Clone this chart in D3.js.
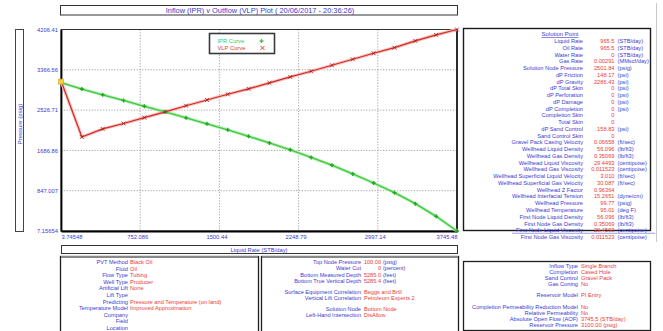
<!DOCTYPE html>
<html>
<head>
<meta charset="utf-8">
<script src="https://cdn.jsdelivr.net/npm/d3@7"></script>
<style>
  html, body { margin: 0; padding: 0; background: #fff; }
  svg { display: block; font-family: "Liberation Sans", Arial, sans-serif; }
</style>
</head>
<body>
<svg id="chart" width="663" height="331"></svg>
<script>
// Inflow / outflow performance curves (liquid rate in STB/day, pressure in psig)
const liquidRate = [3.74548, 200.679, 397.612, 594.546, 791.479, 988.412, 1185.35, 1382.28,
  1579.21, 1776.15, 1973.08, 2170.01, 2366.95, 2563.88, 2760.81, 2957.75, 3154.68, 3351.61,
  3548.55, 3745.48];
const iprPressure = [3100, 2966, 2846, 2728, 2606, 2490, 2366, 2242, 2116, 1980, 1843, 1700,
  1541, 1378, 1196, 1008, 806, 577, 313, 7.15654];
const vlpPressure = [3140, 1967, 2134, 2248, 2370, 2490, 2618, 2738, 2857, 2970, 3093, 3218,
  3336, 3461, 3586, 3711, 3828, 3969, 4094, 4206.41];

const xTicks = [3.74548, 752.086, 1500.44, 2248.79, 2997.14, 3745.48];
const xTickLabels = ["3.74548", "752.086", "1500.44", "2248.79", "2997.14", "3745.48"];
const yTicks = [7.15654, 847.007, 1686.86, 2526.71, 3366.56, 4206.41];
const yTickLabels = ["7.15654", "847.007", "1686.86", "2526.71", "3366.56", "4206.41"];

const seriesNames = ["IPR Curve", "VLP Curve"];
const titleText = "Inflow (IPR) v Outflow (VLP) Plot ( 20/06/2017 - 20:36:26)";
const yAxisTitle = "Pressure (psig)";
const xAxisTitle = "Liquid Rate  (STB/day)";

// Solution point table: label, value, unit
const solutionLabels = ["Liquid Rate", "Oil Rate", "Water Rate", "Gas Rate", "Solution Node Pressure",
  "dP Friction", "dP Gravity", "dP Total Skin", "dP Perforation", "dP Damage", "dP Completion",
  "Completion Skin", "Total Skin", "dP Sand Control", "Sand Control Skin",
  "Gravel Pack Casing Velocity", "Wellhead Liquid Density", "Wellhead Gas Density",
  "Wellhead Liquid Viscosity", "Wellhead Gas Viscosity", "Wellhead Superficial Liquid Velocity",
  "Wellhead Superficial Gas Velocity", "Wellhead Z Factor", "Wellhead Interfacial Tension",
  "Wellhead Pressure", "Wellhead Temperature", "First Node Liquid Density",
  "First Node Gas Density", "First Node Liquid Viscosity", "First Node Gas Viscosity"];
const solutionValues = ["965.5", "965.5", "0", "0.00291", "2501.84", "148.17", "2286.43", "0", "0",
  "0", "0", "0", "0", "158.83", "0", "0.06658", "56.096", "0.35069", "29.4493", "0.011523",
  "3.010", "30.087", "0.96364", "15.2651", "99.77", "95.01", "56.096", "0.35069", "29.4593",
  "0.011523"];
const solutionUnits = ["(STB/day)", "(STB/day)", "(STB/day)", "(MMscf/day)", "(psig)", "(psi)",
  "(psi)", "(psi)", "(psi)", "(psi)", "(psi)", "", "", "(psi)", "", "(ft/sec)", "(lb/ft3)",
  "(lb/ft3)", "(centipoise)", "(centipoise)", "(ft/sec)", "(ft/sec)", "", "(dyne/cm)", "(psig)",
  "(deg F)", "(lb/ft3)", "(lb/ft3)", "(centipoise)", "(centipoise)"];

// Input summary tables
const setupLabels = ["PVT Method", "Fluid", "Flow Type", "Well Type", "Artificial Lift", "Lift Type",
  "Predicting", "Temperature Model", "Company", "Field", "Location"];
const setupValues = ["Black Oil", "Oil", "Tubing", "Producer", "None", "",
  "Pressure and Temperature (on land)", "Improved Approximation", "", "", ""];

const wellLabels = ["Top Node Pressure", "Water Cut", "Bottom Measured Depth", "Bottom True Vertical Depth",
  "Surface Equipment Correlation", "Vertical Lift Correlation", "Solution Node", "Left-Hand Intersection"];
const wellValues = ["100.00", "0", "5285.0", "5285.4", "Beggs and Brill", "Petroleum Experts 2",
  "Bottom Node", "DisAllow"];
const wellUnits = ["(psig)", "(percent)", "(feet)", "(feet)", "", "", "", ""];
const wellRowSlots = [0, 1, 2, 3, 4.7, 5.7, 7.3, 8.3];

const inflowLabels = ["Inflow Type", "Completion", "Sand Control", "Gas Coning", "Reservoir Model",
  "Completion Permeability Reduction Model", "Relative Permeability", "Absolute Open Flow (AOF)",
  "Reservoir Pressure"];
const inflowValues = ["Single Branch", "Cased Hole", "Gravel Pack", "No", "PI Entry", "No", "No",
  "3745.5 (STB/day)", "3100.00 (psig)"];
const inflowRowSlots = [0, 1, 2, 3, 4.9, 6.8, 7.8, 8.8, 9.8];

const BLUE = "#3b3bd0";
const RED = "#e8403a";
const IPR_COLOR = "#3fc93f";
const VLP_COLOR = "#d42a22";

const svg = d3.select("#chart");

// ---- plot area
const plot = { left: 61, right: 457, top: 29.5, bottom: 231 };
const x = d3.scaleLinear().domain([xTicks[0], xTicks[xTicks.length - 1]]).range([plot.left, plot.right]);
const y = d3.scaleLinear().domain([yTicks[0], yTicks[yTicks.length - 1]]).range([plot.bottom, plot.top]);

// title bar
svg.append("rect").attr("x", 60.5).attr("y", 5.5).attr("width", 397).attr("height", 9.5)
  .attr("fill", "#fff").attr("stroke", "#333").attr("stroke-width", 1);
svg.append("text").attr("x", 260).attr("y", 13).attr("text-anchor", "middle")
  .attr("font-size", 7.4).attr("fill", BLUE).text(titleText);

// y axis title box
svg.append("rect").attr("x", 15.5).attr("y", 29.5).attr("width", 8).attr("height", 202)
  .attr("fill", "#fff").attr("stroke", "#444").attr("stroke-width", 1);
svg.append("text").attr("transform", "translate(21.6,124) rotate(-90)")
  .attr("text-anchor", "middle").attr("font-size", 6).attr("fill", BLUE).text(yAxisTitle);

// grid lines
const grid = svg.append("g").attr("stroke", "#8a8a8a").attr("stroke-width", 0.8)
  .attr("stroke-dasharray", "1.2,1.6");
grid.selectAll(".gx").data(xTicks.slice(1, -1)).join("line")
  .attr("x1", d => x(d)).attr("x2", d => x(d)).attr("y1", plot.top).attr("y2", plot.bottom);
grid.selectAll(".gy").data(yTicks.slice(1, -1)).join("line")
  .attr("x1", plot.left).attr("x2", plot.right).attr("y1", d => y(d)).attr("y2", d => y(d));

// plot frame
svg.append("rect").attr("x", plot.left).attr("y", plot.top)
  .attr("width", plot.right - plot.left).attr("height", plot.bottom - plot.top)
  .attr("fill", "none").attr("stroke", "#333").attr("stroke-width", 1);
svg.append("line").attr("x1", plot.right).attr("x2", plot.right).attr("y1", plot.top).attr("y2", plot.bottom)
  .attr("stroke", "#111").attr("stroke-width", 1.6);

// axes with the library's tick generator, labels from the tick arrays
const yAxis = d3.axisLeft(y).tickValues(yTicks).tickSize(0).tickPadding(3)
  .tickFormat((d, i) => yTickLabels[i]);
const gy = svg.append("g").attr("transform", `translate(${plot.left},0)`).call(yAxis);
gy.select(".domain").attr("stroke", "#000").attr("stroke-width", 1.8);
gy.selectAll("text").attr("font-size", 5.8).attr("fill", BLUE).attr("font-family", "Liberation Sans, Arial, sans-serif");

const xAxis = d3.axisBottom(x).tickValues(xTicks).tickSize(0).tickPadding(4)
  .tickFormat((d, i) => xTickLabels[i]);
const gx = svg.append("g").attr("transform", `translate(0,${plot.bottom})`).call(xAxis);
gx.select(".domain").attr("stroke", "#000").attr("stroke-width", 1.8);
gx.selectAll("text").attr("font-size", 5.8).attr("fill", BLUE).attr("font-family", "Liberation Sans, Arial, sans-serif")
  .attr("text-anchor", (d, i) => i === 0 ? "start" : (i === xTicks.length - 1 ? "end" : "middle"))
  .attr("dx", (d, i) => (i === 0 || i === xTicks.length - 1) ? 0 : -3);

// curves
const line = d3.line().x(d => x(d[0])).y(d => y(d[1]));
const iprData = liquidRate.map((r, i) => [r, iprPressure[i]]);
const vlpData = liquidRate.map((r, i) => [r, vlpPressure[i]]);

// soft halo under each curve
svg.append("path").datum(iprData).attr("d", line).attr("fill", "none")
  .attr("stroke", "#b8efb8").attr("stroke-width", 3.2).attr("stroke-linejoin", "round");
svg.append("path").datum(vlpData).attr("d", line).attr("fill", "none")
  .attr("stroke", "#f6c2c0").attr("stroke-width", 3.2).attr("stroke-linejoin", "round");
svg.append("path").datum(iprData).attr("d", line).attr("fill", "none")
  .attr("stroke", IPR_COLOR).attr("stroke-width", 1.3);
svg.append("path").datum(vlpData).attr("d", line).attr("fill", "none")
  .attr("stroke", VLP_COLOR).attr("stroke-width", 1.2);

// markers
const plus = d3.symbol().type(d3.symbolCross).size(9);
const star = d3.symbol().type(d3.symbolTimes).size(12);
svg.append("g").selectAll("path").data(iprData.slice(1)).join("path")
  .attr("transform", d => `translate(${x(d[0])},${y(d[1])})`)
  .attr("d", plus).attr("fill", "#1fa81f");
svg.append("g").selectAll("path").data(vlpData.slice(1)).join("path")
  .attr("transform", d => `translate(${x(d[0])},${y(d[1])})`)
  .attr("d", star).attr("fill", "none").attr("stroke", "#a01c18").attr("stroke-width", 0.8);
// starting (zero-rate) point
svg.append("rect").attr("x", x(liquidRate[0]) - 2.5).attr("y", y(iprPressure[0]) - 3.5)
  .attr("width", 5).attr("height", 5).attr("fill", "#f2d23a").attr("stroke", "#c9a020").attr("stroke-width", 0.6);

// legend
const legend = svg.append("g").attr("transform", "translate(209.5,33.5)");
legend.append("rect").attr("width", 65).attr("height", 20).attr("fill", "#fff")
  .attr("stroke", "#3a3a3a").attr("stroke-width", 1.6);
seriesNames.forEach((name, i) => {
  const cy = 7.5 + i * 7;
  legend.append("text").attr("x", 8).attr("y", cy + 2).attr("font-size", 5.8)
    .attr("fill", i === 0 ? IPR_COLOR : "#e0403a").text(name);
  legend.append("path").attr("transform", `translate(${i === 0 ? 52 : 53},${cy})`)
    .attr("d", i === 0 ? plus : star)
    .attr("fill", i === 0 ? IPR_COLOR : "none")
    .attr("stroke", i === 0 ? "none" : VLP_COLOR).attr("stroke-width", 0.9);
});

// x axis title bar
svg.append("rect").attr("x", 61.5).attr("y", 245.5).attr("width", 396).attr("height", 8)
  .attr("fill", "#fff").attr("stroke", "#333").attr("stroke-width", 1);
svg.append("text").attr("x", 259).attr("y", 252).attr("text-anchor", "middle")
  .attr("font-size", 5.8).attr("fill", BLUE).text(xAxisTitle);

// ---- solution point panel
svg.append("line").attr("x1", 656.5).attr("x2", 656.5).attr("y1", 3).attr("y2", 242)
  .attr("stroke", "#c8c8c8").attr("stroke-width", 1);
svg.append("rect").attr("x", 463.5).attr("y", 28.5).attr("width", 187).attr("height", 202)
  .attr("fill", "#fff").attr("stroke", "#1a1a1a").attr("stroke-width", 1.4);
svg.append("text").attr("x", 560).attr("y", 36).attr("text-anchor", "middle")
  .attr("font-size", 6).attr("fill", BLUE).attr("text-decoration", "underline").text("Solution Point");

// Numbers sit right-aligned against their unit; word values start just after the label.
const isNumber = s => /^[-0-9.]+$/.test(s);

function tableRows(g, labels, values, units, opts) {
  labels.forEach((lab, i) => {
    const slot = opts.slots ? opts.slots[i] : i;
    const ty = opts.y0 + slot * opts.dy;
    g.append("text").attr("x", opts.labelX).attr("y", ty).attr("text-anchor", "end")
      .attr("font-size", opts.fs).attr("fill", BLUE).text(lab);
    const v = values[i];
    if (v !== "") {
      const right = opts.valueAnchor === "end" && isNumber(v);
      g.append("text").attr("x", right ? opts.valueX : opts.textX)
        .attr("y", ty).attr("text-anchor", right ? "end" : "start")
        .attr("font-size", opts.fs).attr("fill", RED).text(v);
    }
    if (units && units[i]) {
      g.append("text").attr("x", opts.unitX).attr("y", ty)
        .attr("font-size", opts.fs).attr("fill", BLUE).text(units[i]);
    }
  });
}

const sol = svg.append("g");
tableRows(sol, solutionLabels, solutionValues, solutionUnits,
  { y0: 43, dy: 6.76, labelX: 583, valueX: 614.5, textX: 586, valueAnchor: "end", unitX: 617.5, fs: 5.7 });
// highlighted row
sol.append("line").attr("x1", 512).attr("x2", 655).attr("y1", 43 + 28 * 6.76 + 1)
  .attr("y2", 43 + 28 * 6.76 + 1).attr("stroke", BLUE).attr("stroke-width", 0.5);

// ---- bottom panels
function panel(x0, y0, w, h) {
  svg.append("rect").attr("x", x0 + 0.5).attr("y", y0 + 0.5).attr("width", w).attr("height", h)
    .attr("fill", "#fff").attr("stroke", "#1e1e1e").attr("stroke-width", 1.3);
}
panel(60, 256, 198, 80);
svg.append("line").attr("x1", 61).attr("x2", 258).attr("y1", 257).attr("y2", 257)
  .attr("stroke", "#888").attr("stroke-width", 2);
panel(261, 256, 197, 80);
svg.append("line").attr("x1", 262).attr("x2", 458).attr("y1", 257).attr("y2", 257)
  .attr("stroke", "#888").attr("stroke-width", 2);
panel(463, 261, 187, 69);

tableRows(svg.append("g"), setupLabels, setupValues, null,
  { y0: 264, dy: 6.6, labelX: 128, textX: 130, valueAnchor: "start", fs: 5.7 });
tableRows(svg.append("g"), wellLabels, wellValues, wellUnits,
  { y0: 264, dy: 6.4, slots: wellRowSlots, labelX: 361, valueX: 381, textX: 364, valueAnchor: "end", unitX: 383, fs: 5.6 });
tableRows(svg.append("g"), inflowLabels, inflowValues, null,
  { y0: 268, dy: 6.0, slots: inflowRowSlots, labelX: 578, textX: 581, valueAnchor: "start", fs: 5.7 });
</script>
</body>
</html>
